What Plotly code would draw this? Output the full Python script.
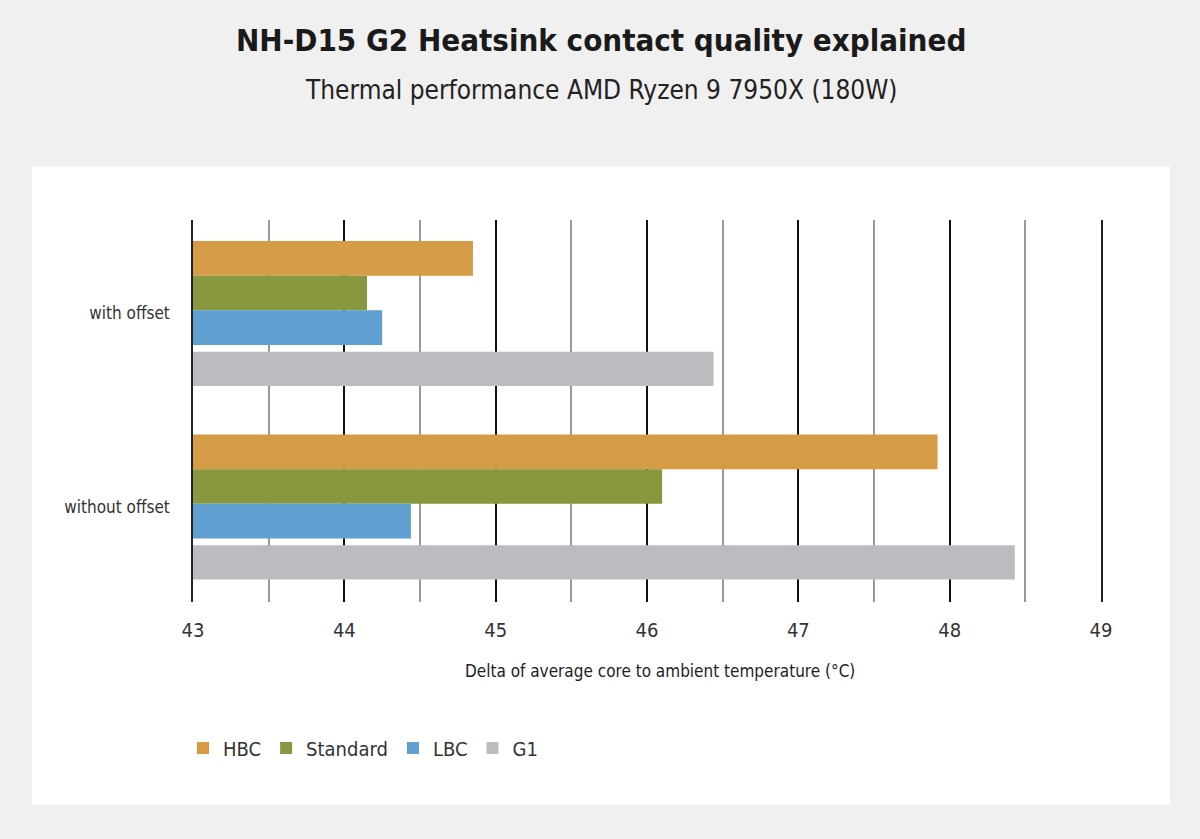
import plotly.graph_objects as go

# data
categories = ["without offset", "with offset"]
series = ["HBC", "Standard", "LBC", "G1"]
hbc = [47.92, 44.85]
standard = [46.10, 44.15]
lbc = [44.44, 44.25]
g1 = [48.43, 46.44]
x_ticks = [43, 44, 45, 46, 47, 48, 49]

colors = ["#D69C45", "#87983F", "#5FA0D0", "#BCBCC0"]
# slot of each bar inside its category (offset, width), top to bottom
slots = [(0.195, 0.18), (0.017, 0.178), (-0.163, 0.18), (-0.375, 0.177)]

FONT = "DejaVu Sans Condensed, DejaVu Sans, sans-serif"

fig = go.Figure()
for name, vals, col, (off, w) in zip(series, [hbc, standard, lbc, g1], colors, slots):
    fig.add_trace(go.Bar(
        y=categories, x=vals, name=name, orientation="h",
        marker=dict(color=col, line=dict(width=0)),
        offset=off, width=w,
    ))

# white card behind the chart
fig.add_shape(type="rect", xref="paper", yref="paper",
              x0=-0.1773, x1=1.076, y0=-0.531, y1=1.141,
              fillcolor="white", line=dict(width=0), layer="below")

fig.add_annotation(text="<b>NH-D15 G2 Heatsink contact quality explained</b>",
                   xref="paper", yref="paper", x=0.4493, y=1.471,
                   xanchor="center", yanchor="middle",
                   showarrow=False, font=dict(family=FONT, size=31, color="#1a1a1a"))
fig.add_annotation(text="Thermal performance AMD Ryzen 9 7950X (180W)",
                   xref="paper", yref="paper", x=0.4493, y=1.340,
                   xanchor="center", yanchor="middle",
                   showarrow=False, font=dict(family=FONT, size=26, color="#222"))
# x axis title
fig.add_annotation(text="Delta of average core to ambient temperature (°C)",
                   xref="paper", yref="paper", x=0.514, y=-0.181,
                   xanchor="center", yanchor="middle",
                   showarrow=False, font=dict(family=FONT, size=17, color="#222"))

fig.update_layout(
    width=1200, height=839,
    barmode="overlay",
    paper_bgcolor="#F0F0F0",
    plot_bgcolor="white",
    margin=dict(l=193, r=99, t=220, b=237),
    font=dict(family=FONT, color="#333"),
    showlegend=True,
    legend=dict(orientation="h", x=-0.011, xanchor="left", y=-0.382, yanchor="middle",
                font=dict(size=20, color="#333"), traceorder="normal",
                itemwidth=30, bgcolor="rgba(0,0,0,0)"),
)

fig.update_xaxes(
    range=[43, 49], tickvals=x_ticks, ticks="",
    showgrid=True, gridcolor="#111", gridwidth=1.5,
    minor=dict(dtick=0.5, showgrid=True, gridcolor="#999", gridwidth=1.5),
    zeroline=False, showline=False,
    tickfont=dict(size=20, color="#333"), ticklabelstandoff=14,
)
fig.update_yaxes(
    categoryorder="array", categoryarray=categories,
    range=[-0.491, 1.483], showgrid=False, zeroline=False,
    showline=True, mirror=True, linecolor="#222", linewidth=1.5,
    ticks="", tickfont=dict(size=17, color="#333"), ticklabelstandoff=18,
)

fig.write_html(
    "out.html",
    config={"displayModeBar": False},
    post_script="document.body.style.margin='0';document.body.style.background='#F0F0F0';",
)
